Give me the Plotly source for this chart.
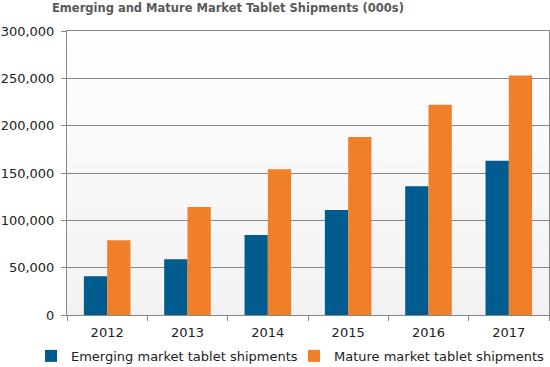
import plotly.graph_objects as go

years = ["2012", "2013", "2014", "2015", "2016", "2017"]
emerging = [41000, 59000, 84500, 111000, 136000, 163000]
mature = [79000, 114000, 154000, 188000, 222000, 253000]

BLUE = "#005b8f"
ORANGE = "#f07f29"
FONT = "DejaVu Sans"

fig = go.Figure()
fig.add_trace(go.Bar(x=years, y=emerging, name="Emerging market tablet shipments",
                     marker=dict(color=BLUE, line=dict(width=0))))
fig.add_trace(go.Bar(x=years, y=mature, name="Mature market tablet shipments",
                     marker=dict(color=ORANGE, line=dict(width=0))))

# gradient background bands
n = 24
for i in range(n):
    t = i / n
    v = int(round(242 + (255 - 242) * t))
    col = f"rgb({v},{v},{v})"
    fig.add_shape(type="rect", xref="x domain", yref="y domain",
                  x0=0, x1=1, y0=i / n, y1=(i + 1) / n,
                  fillcolor=col, line=dict(width=0), layer="below")

fig.update_layout(
    width=550, height=367,
    margin=dict(l=67, r=1, t=31, b=52, autoexpand=False),
    paper_bgcolor="white",
    plot_bgcolor="white",
    barmode="group",
    bargap=0.42,
    bargroupgap=0,
    font=dict(family=FONT, size=13, color="#222"),
    title=dict(text="<b>Emerging and Mature Market Tablet Shipments (000s)</b>",
               x=52 / 550, xanchor="left", y=1 - 8 / 367, yanchor="middle",
               font=dict(family=FONT, size=11.5, color="#595959")),
    showlegend=True,
    legend=dict(orientation="h", x=-0.0747, xanchor="left", y=-0.197, yanchor="bottom",
                font=dict(family=FONT, size=13, color="#222"),
                entrywidth=218,
                bgcolor="rgba(0,0,0,0)", traceorder="normal"),
)
fig.update_xaxes(showline=True, linecolor="#888", linewidth=1, mirror=True,
                 ticks="outside", ticklen=5, tickcolor="#888",
                 tickson="boundaries", showgrid=False, ticklabelstandoff=5,
                 tickfont=dict(family=FONT, size=13, color="#222"))
fig.update_yaxes(range=[0, 300000], dtick=50000, tickformat=",",
                 showline=True, linecolor="#888", linewidth=1, mirror=True,
                 ticks="outside", ticklen=5, tickcolor="#888",
                 showgrid=True, gridcolor="#888", gridwidth=1,
                 zeroline=False, ticklabelstandoff=4,
                 tickfont=dict(family=FONT, size=13, color="#222"))

fig.write_html("out.html", config={"displayModeBar": False},
               post_script="document.body.style.margin='0px';")
